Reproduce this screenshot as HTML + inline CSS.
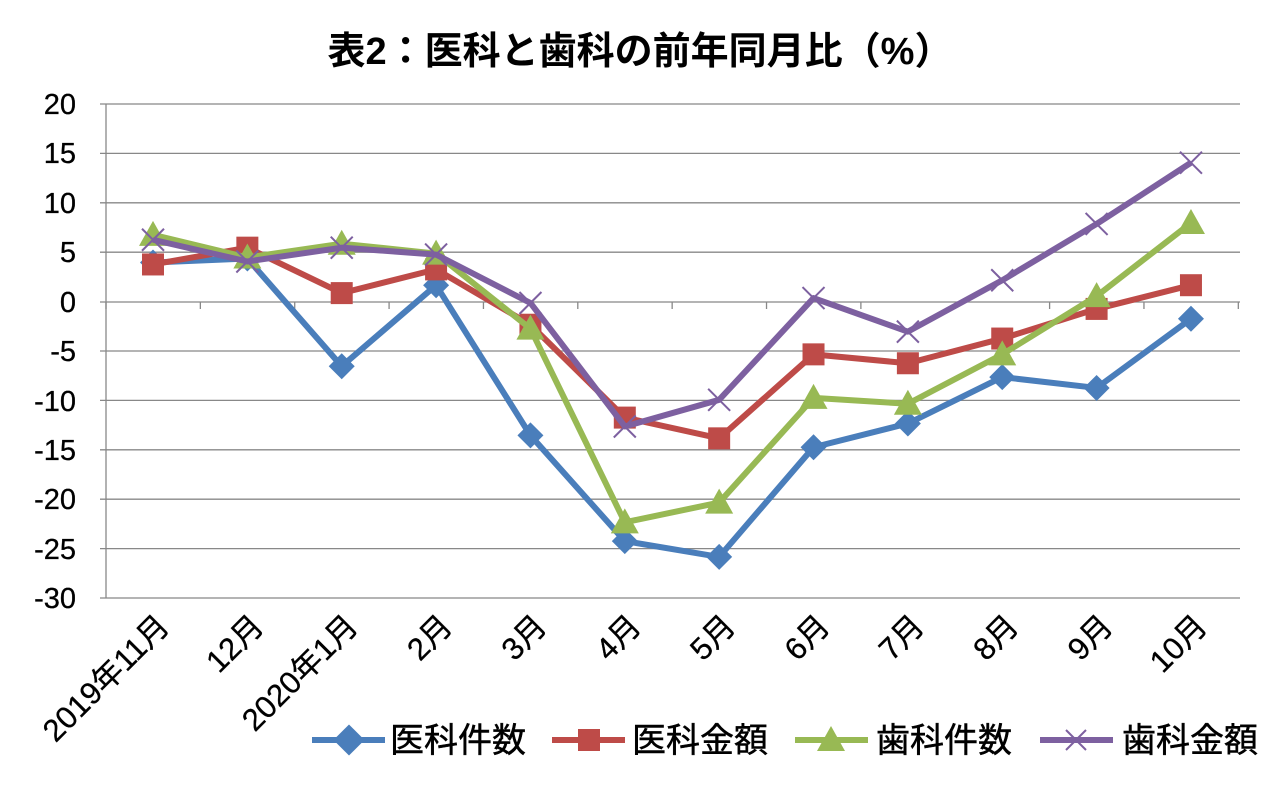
<!DOCTYPE html>
<html><head><meta charset="utf-8"><style>
body{margin:0;background:#fff}
svg text{font-family:"Liberation Sans","Noto Sans CJK JP",sans-serif;fill:#000}
</style></head><body>
<svg width="1280" height="782" viewBox="0 0 1280 782" xmlns="http://www.w3.org/2000/svg">
<rect width="1280" height="782" fill="#fff"/>
<text x="640" y="64" font-size="38" font-weight="bold" text-anchor="middle">表2：医科と歯科の前年同月比（%）</text>
<g stroke="#888" stroke-width="1.3">
<line x1="100" y1="104" x2="1240" y2="104"/>
<line x1="100" y1="153.4" x2="1240" y2="153.4"/>
<line x1="100" y1="202.8" x2="1240" y2="202.8"/>
<line x1="100" y1="252.2" x2="1240" y2="252.2"/>
<line x1="100" y1="351" x2="1240" y2="351"/>
<line x1="100" y1="400.4" x2="1240" y2="400.4"/>
<line x1="100" y1="449.8" x2="1240" y2="449.8"/>
<line x1="100" y1="499.2" x2="1240" y2="499.2"/>
<line x1="100" y1="548.6" x2="1240" y2="548.6"/>
<line x1="100" y1="598" x2="1240" y2="598"/>
<line x1="106" y1="104" x2="106" y2="598"/>
<line x1="100" y1="302" x2="1240" y2="302"/>
</g>
<g stroke="#888" stroke-width="1.3" id="ticks"></g>
<g font-size="29" text-anchor="end" stroke="#000" stroke-width="0.3">
<text x="76" y="114">20</text><text x="76" y="163">15</text><text x="76" y="213">10</text><text x="76" y="262">5</text><text x="76" y="312">0</text><text x="76" y="361">-5</text><text x="76" y="411">-10</text><text x="76" y="460">-15</text><text x="76" y="509">-20</text><text x="76" y="559">-25</text><text x="76" y="608">-30</text>
</g>
<g id="xl" font-size="31" text-anchor="end" stroke="#000" stroke-width="0.3"></g>
<g id="series"></g>
<g font-size="34" stroke="#000" stroke-width="0.5">
<line x1="312" y1="740" x2="385" y2="740" stroke="#4a7ebb" stroke-width="6"/>
<rect x="338" y="729" width="22" height="22" fill="#4a7ebb" stroke="none" transform="rotate(45 349 740)"/>
<text x="390" y="752">医科件数</text>
<line x1="552" y1="740" x2="625" y2="740" stroke="#be4b48" stroke-width="6"/>
<rect x="578" y="729" width="22" height="22" fill="#be4b48" stroke="none"/>
<text x="632" y="752">医科金額</text>
<line x1="795" y1="740" x2="868" y2="740" stroke="#98b954" stroke-width="6"/>
<polygon points="831,726 845,751 817,751" fill="#98b954" stroke="none"/>
<text x="876" y="752">歯科件数</text>
<line x1="1040" y1="740" x2="1113" y2="740" stroke="#7d60a0" stroke-width="6"/>
<path d="M1066,730 L1086,750 M1086,730 L1066,750" stroke="#7d60a0" stroke-width="2"/>
<text x="1122" y="752">歯科金額</text>
</g>
</svg>
<script>
const ns="http://www.w3.org/2000/svg";
const X=i=>153+i*94.36, Y=v=>302-v*9.88;
const t=document.getElementById("ticks");
for(let i=0;i<=12;i++){const l=document.createElementNS(ns,"line");const x=106+i*94.36;l.setAttribute("x1",x);l.setAttribute("x2",x);l.setAttribute("y1",302);l.setAttribute("y2",309);t.appendChild(l);}
const labs=["2019年11月","12月","2020年1月","2月","3月","4月","5月","6月","7月","8月","9月","10月"];
const xl=document.getElementById("xl");
labs.forEach((s,i)=>{const e=document.createElementNS(ns,"text");e.setAttribute("transform",`translate(${X(i)+18},${628}) rotate(-45)`);e.textContent=s;xl.appendChild(e);});
const data=[
["#4a7ebb","d",[4,4.4,-6.5,1.7,-13.5,-24.2,-25.8,-14.7,-12.3,-7.6,-8.7,-1.7]],
["#be4b48","s",[3.8,5.5,0.9,3.3,-2.3,-11.7,-13.8,-5.3,-6.2,-3.7,-0.7,1.7]],
["#98b954","t",[6.8,4.5,5.9,4.9,-2.7,-22.3,-20.3,-9.7,-10.3,-5.3,0.6,8.0]],
["#7d60a0","x",[6.3,4.1,5.5,4.8,-0.1,-12.6,-9.9,0.4,-3.0,2.2,7.9,14.1]]];
const g=document.getElementById("series");
let html="";
data.forEach(([c,m,v])=>{
html+=`<polyline fill="none" stroke="${c}" stroke-width="6" stroke-linejoin="round" points="${v.map((a,i)=>X(i)+","+Y(a)).join(" ")}"/>`;
v.forEach((a,i)=>{const x=X(i),y=Y(a);
if(m=="d")html+=`<polygon points="${x},${y-13} ${x+13},${y} ${x},${y+13} ${x-13},${y}" fill="${c}"/>`;
if(m=="s")html+=`<rect x="${x-11}" y="${y-11}" width="22" height="22" fill="${c}"/>`;
if(m=="t")html+=`<polygon points="${x},${y-14} ${x+14},${y+11} ${x-14},${y+11}" fill="${c}"/>`;
if(m=="x")html+=`<path d="M${x-11},${y-11}L${x+11},${y+11}M${x+11},${y-11}L${x-11},${y+11}" stroke="${c}" stroke-width="2"/>`;});});
g.innerHTML=html;
</script>
</body></html>
